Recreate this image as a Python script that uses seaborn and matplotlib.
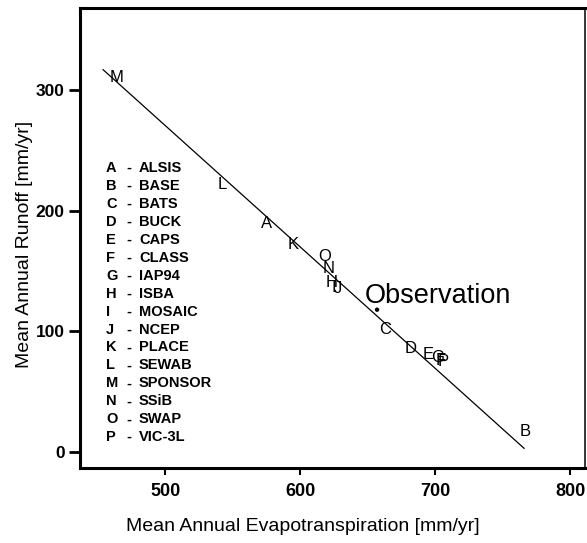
import matplotlib
matplotlib.use("Agg")
import matplotlib.pyplot as plt
import seaborn as sns
import pandas as pd

# Model codes, names and their mean annual water balance (mm/yr)
codes = ["A", "B", "C", "D", "E", "F", "G", "H", "I", "J", "K", "L", "M", "N", "O", "P"]
models = ["ALSIS", "BASE", "BATS", "BUCK", "CAPS", "CLASS", "IAP94", "ISBA",
          "MOSAIC", "NCEP", "PLACE", "SEWAB", "SPONSOR", "SSiB", "SWAP", "VIC-3L"]
evap = [575, 767, 663, 682, 695, 704, 702, 623, 625, 628, 595, 542, 464, 621, 618, 706]
runoff = [191, 18, 103, 87, 82, 77, 80, 142, 138, 137, 173, 223, 312, 153, 163, 76]

# Observed value
obs_evap = [657]
obs_runoff = [118]

# End points of the fitted line through the model results
fit_evap = [454, 766]
fit_runoff = [317, 3]

x_ticks = [500, 600, 700, 800]
y_ticks = [0, 100, 200, 300]

sns.set_theme(style="white")
plt.rcParams["font.family"] = ["Liberation Sans", "DejaVu Sans"]
plt.rcParams.update({"text.color": "black", "axes.labelcolor": "black",
                     "xtick.color": "black", "ytick.color": "black"})

fig = plt.figure(figsize=(5.87, 5.43), dpi=100)
ax = fig.add_axes([80 / 587, 1 - 468 / 543, 505 / 587, 460 / 543])

fit = pd.DataFrame({"et": fit_evap, "ro": fit_runoff})
sns.lineplot(data=fit, x="et", y="ro", ax=ax, color="black", linewidth=0.9)

obs = pd.DataFrame({"et": obs_evap, "ro": obs_runoff})
sns.scatterplot(data=obs, x="et", y="ro", ax=ax, color="black", s=10,
                edgecolor="none", zorder=3)
ax.text(obs_evap[0] - 9, obs_runoff[0] + 5.5, "Observation", fontsize=19.5,
        ha="left", va="baseline", color="black")

# Each model is drawn as its code letter, centred on its value
for c, x, y in zip(codes, evap, runoff):
    ax.annotate(c, (x, y), xytext=(0, -4.3), textcoords="offset points",
                ha="center", va="baseline", fontsize=12, color="black")

# Key of code letters
y0, step = 0.652, 0.0390
for i, (c, m) in enumerate(zip(codes, models)):
    yy = y0 - i * step
    ax.text(0.0515, yy, c, transform=ax.transAxes, ha="left", va="center",
            fontsize=10.5, fontweight="bold")
    ax.text(0.097, yy, "-", transform=ax.transAxes, ha="center", va="center",
            fontsize=10.5, fontweight="bold")
    ax.text(0.1168, yy, m, transform=ax.transAxes, ha="left", va="center",
            fontsize=10.5, fontweight="bold")

ax.set_xlim(437, 811)
ax.set_ylim(-13.2, 368)
ax.set_xticks(x_ticks)
ax.set_yticks(y_ticks)
ax.set_xlabel("Mean Annual Evapotranspiration [mm/yr]", fontsize=14)
ax.set_ylabel("Mean Annual Runoff [mm/yr]", fontsize=14)
ax.xaxis.set_label_coords(0.4416, -0.108)
ax.yaxis.set_label_coords(-0.094, 0.485)

ax.tick_params(axis="y", direction="out", length=8, width=2, labelsize=12.5,
               pad=3, left=True)
ax.tick_params(axis="x", direction="out", length=5, width=1.5, labelsize=13,
               pad=6, bottom=True)
for lbl in ax.get_xticklabels() + ax.get_yticklabels():
    lbl.set_fontweight("bold")

for side in ["left", "bottom", "top"]:
    ax.spines[side].set_linewidth(2.2)
    ax.spines[side].set_color("black")
ax.spines["right"].set_linewidth(1.1)
ax.spines["right"].set_color("black")

fig.savefig("out.png", dpi=100)
